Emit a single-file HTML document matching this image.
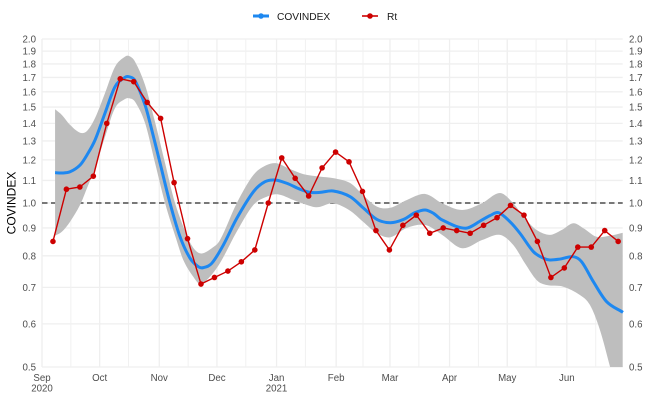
<!DOCTYPE html>
<html>
<head>
<meta charset="utf-8">
<style>
html,body{margin:0;padding:0;background:#fff;}
#wrap{width:664px;height:415px;overflow:hidden;}
svg{display:block;font-family:"Liberation Sans",sans-serif;}
</style>
</head>
<body>
<div id="wrap">
<svg id="chart" width="664" height="415" viewBox="0 0 664 415" xmlns="http://www.w3.org/2000/svg">
<defs><clipPath id="panel-clip"><rect x="42" y="39" width="580.7" height="328"/></clipPath></defs>
<g id="grid"></g>
<line id="ref" stroke="#4d4d4d" stroke-width="1.5" stroke-dasharray="5.5,3.5"/>
<path id="band" fill="#bebebe" clip-path="url(#panel-clip)"/>
<path id="blue" fill="none" stroke="#1e88f0" stroke-width="3"/>
<path id="red" fill="none" stroke="#cd0000" stroke-width="1.4"/>
<g id="points"></g>
<g id="ylabels"></g>
<g id="xlabels"></g>
<text transform="translate(15.5,203) rotate(-90)" text-anchor="middle" font-size="12" fill="#000">COVINDEX</text>
<g>
  <g>
    <line x1="253" y1="16" x2="269" y2="16" stroke="#1e88f0" stroke-width="3"/>
    <circle cx="261" cy="16" r="2.8" fill="#1e88f0"/>
    <text x="277" y="20" font-size="10.2" fill="#1a1a1a">COVINDEX</text>
  </g>
  <g>
    <line x1="362" y1="16" x2="378" y2="16" stroke="#cd0000" stroke-width="1.6"/>
    <circle cx="370" cy="16" r="2.8" fill="#cd0000"/>
    <text x="387" y="20" font-size="10.2" fill="#1a1a1a">Rt</text>
  </g>
</g>
</svg>
</div>
<script>
// Y axis ticks
const yTicks = [0.5,0.6,0.7,0.8,0.9,1.0,1.1,1.2,1.3,1.4,1.5,1.6,1.7,1.8,1.9,2.0];
// X axis (days since 1 Sep 2020)
const monthDays = [0,30,61,91,122,153,181,212,242,273];
const monthLabels = ["Sep","Oct","Nov","Dec","Jan","Feb","Mar","Apr","May","Jun"];
const yearLabels = ["2020","","","","2021","","","","",""];
const midMonthDays = [15,45,76,106,137,167,196,227,257,288];
// Rt series
const rtDays = [5.7,12.7,19.7,26.7,33.7,40.7,47.7,54.7,61.7,68.7,75.7,82.7,89.7,96.7,103.7,110.7,117.7,124.7,131.7,138.7,145.7,152.7,159.7,166.7,173.7,180.7,187.7,194.7,201.7,208.7,215.7,222.7,229.7,236.7,243.7,250.7,257.7,264.7,271.7,278.7,285.7,292.7,299.7];
const rtValues = [0.85,1.06,1.07,1.12,1.40,1.69,1.67,1.53,1.43,1.09,0.86,0.71,0.73,0.75,0.78,0.82,1.00,1.21,1.11,1.03,1.16,1.24,1.19,1.05,0.89,0.82,0.91,0.95,0.88,0.90,0.89,0.88,0.91,0.94,0.99,0.95,0.85,0.73,0.76,0.83,0.83,0.89,0.85];
// COVINDEX series
const covDays = [6.8,10.4,14.6,19.8,23.4,27.6,32.8,38,43.2,45.3,48.4,53.6,56.2,61.4,66.6,71.8,77,81.3,83.9,88.3,94.3,101.3,110,116,121.2,127.3,134.2,139.4,144.6,151.5,160.3,167.3,174.2,181.2,188.1,194,199.4,203.7,208.1,220.2,228.9,233,237.5,243.4,248.6,255.6,260.8,264.2,269.4,276.4,280.7,286.8,293.7,302.2];
const covValues = [1.137,1.135,1.141,1.174,1.225,1.305,1.463,1.635,1.701,1.705,1.677,1.513,1.402,1.184,0.999,0.867,0.792,0.764,0.761,0.775,0.837,0.937,1.049,1.094,1.102,1.087,1.060,1.046,1.046,1.052,1.027,0.978,0.933,0.920,0.933,0.960,0.971,0.957,0.931,0.899,0.931,0.948,0.960,0.924,0.880,0.814,0.792,0.786,0.789,0.797,0.780,0.717,0.659,0.630];
// Confidence band, upper edge
const upperDays = [6.8,10.4,14.6,19.8,23.4,27.6,32.8,38,43.2,45.3,48.4,53.6,58.8,64,69.2,75.9,79.6,83.1,88.3,92.6,101.3,110,116.9,122.1,128.1,135.9,144.6,151.5,160.3,167,174.2,181.2,189.8,199.4,208.1,218.5,228.9,238.2,245,251.2,257.3,264.2,270.3,276.4,281.6,288.5,295.5,302.3];
const upperValues = [1.486,1.450,1.391,1.346,1.356,1.432,1.592,1.779,1.856,1.861,1.817,1.647,1.408,1.184,1.000,0.863,0.820,0.808,0.826,0.855,0.999,1.126,1.174,1.183,1.158,1.130,1.118,1.111,1.088,1.034,0.985,0.980,1.013,1.039,0.999,0.971,0.999,1.043,1.000,0.937,0.892,0.874,0.892,0.918,0.899,0.867,0.871,0.882];
// Confidence band, lower edge
const lowerDays = [6.8,10.4,14.6,19.8,23.4,27.6,32.8,38,43.2,45.3,48.4,53.6,58.8,64,69.7,73.5,78.7,82.2,86.5,92.6,101.3,110,116.9,122.8,130.7,141,144.6,151.5,160.3,167,174.2,181.2,189.8,199.4,208.1,218.5,228.9,238.2,245.2,251.2,257.3,262.5,271.2,279.8,285,290.2,295.5,302.2];
const lowerValues = [0.871,0.886,0.924,0.992,1.065,1.159,1.323,1.494,1.552,1.557,1.534,1.402,1.184,1.000,0.861,0.786,0.732,0.710,0.727,0.776,0.886,0.992,1.027,1.037,1.013,0.984,0.984,0.999,0.968,0.924,0.880,0.865,0.900,0.911,0.874,0.826,0.855,0.874,0.837,0.775,0.722,0.707,0.702,0.678,0.650,0.585,0.500,0.408];
const refValue = 1.0;

const NS = "http://www.w3.org/2000/svg";
const xScale = d => 42 + d * 1.9225;
const yScale = v => 367 - Math.log2(v / 0.5) * 164;

function mk(tag, attrs, parent) {
  const el = document.createElementNS(NS, tag);
  for (const k in attrs) el.setAttribute(k, attrs[k]);
  parent.appendChild(el);
  return el;
}
function smooth(pts) {
  const n = pts.length, m = [];
  for (let i = 0; i < n; i++) {
    const a = pts[Math.max(0, i - 1)], b = pts[Math.min(n - 1, i + 1)];
    m.push((b[1] - a[1]) / (b[0] - a[0]));
  }
  let s = "";
  for (let i = 0; i < n - 1; i++) {
    const p = pts[i], q = pts[i + 1], h = (q[0] - p[0]) / 3;
    s += "C" + (p[0] + h).toFixed(2) + " " + (p[1] + m[i] * h).toFixed(2) + " " +
         (q[0] - h).toFixed(2) + " " + (q[1] - m[i + 1] * h).toFixed(2) + " " +
         q[0].toFixed(2) + " " + q[1].toFixed(2);
  }
  return s;
}
const toPts = (ds, vs) => ds.map((d, i) => [xScale(d), yScale(vs[i])]);

const grid = document.getElementById("grid");
yTicks.forEach(v => {
  const l = mk("line", {x1: 42, x2: 622.7, y1: yScale(v), y2: yScale(v), stroke: "#efefef", "stroke-width": 1.3}, grid);
  
  
});
midMonthDays.forEach(d => {
  const l = mk("line", {x1: xScale(d), x2: xScale(d), y1: 39, y2: 367, stroke: "#f1f1f1", "stroke-width": 1}, grid);
  
  
});
monthDays.forEach(d => {
  const l = mk("line", {x1: xScale(d), x2: xScale(d), y1: 39, y2: 367, stroke: "#efefef", "stroke-width": 1.3}, grid);
  
  
});

const ref = document.getElementById("ref");
ref.setAttribute("x1", 42); ref.setAttribute("x2", 622.7);
ref.setAttribute("y1", yScale(refValue)); ref.setAttribute("y2", yScale(refValue));

const up = toPts(upperDays, upperValues);
const lo = toPts(lowerDays, lowerValues).reverse();
document.getElementById("band").setAttribute("d",
  "M" + up[0].join(" ") + smooth(up) + "L" + lo[0].join(" ") + smooth(lo) + "Z");

const cov = toPts(covDays, covValues);
document.getElementById("blue").setAttribute("d", "M" + cov[0].join(" ") + smooth(cov));

const rt = toPts(rtDays, rtValues);
document.getElementById("red").setAttribute("d", "M" + rt.map(p => p[0].toFixed(2) + " " + p[1].toFixed(2)).join("L"));
const ptsG = document.getElementById("points");
rt.forEach(p => {
  const c = mk("circle", {cx: p[0], cy: p[1], r: 2.8, fill: "#cd0000"}, ptsG);
  
  
});

const yl = document.getElementById("ylabels");
yTicks.forEach(v => {
  [[36, "end"], [629, "start"]].forEach(side => {
    const t = mk("text", {x: side[0], y: yScale(v) + 3.5, "text-anchor": side[1], "font-size": 9.7, fill: "#4d4d4d"}, yl);
    
    
    t.textContent = v.toFixed(1);
  });
});

const xl = document.getElementById("xlabels");
monthDays.forEach((d, i) => {
  const t = mk("text", {x: xScale(d), y: 381, "text-anchor": "middle", "font-size": 9.7, fill: "#4d4d4d"}, xl);
  
  
  t.textContent = monthLabels[i];
  if (yearLabels[i]) {
    const t2 = mk("text", {x: xScale(d), y: 391.5, "text-anchor": "middle", "font-size": 9.7, fill: "#4d4d4d"}, xl);
    
    
    t2.textContent = yearLabels[i];
  }
});
</script>
</body>
</html>
